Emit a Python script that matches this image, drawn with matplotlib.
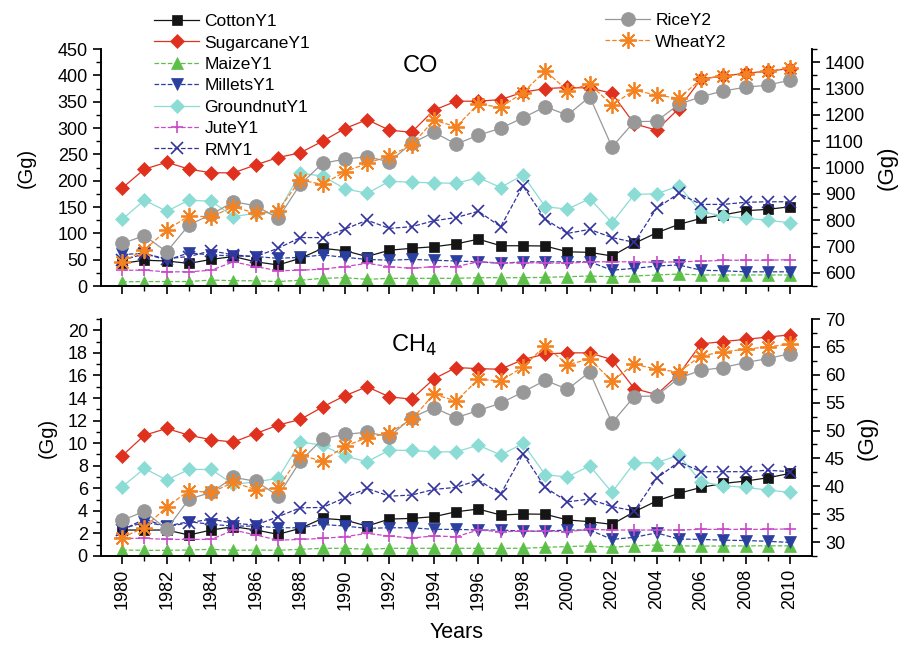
import numpy as np
import matplotlib
matplotlib.use("Agg")
import matplotlib.pyplot as plt
from matplotlib.ticker import MultipleLocator

plt.rcParams['font.family'] = ['Liberation Sans', 'DejaVu Sans']

years = list(range(1980, 2011))

# CO (Gg) - Y1 series
cotton_co = [43, 49, 47.5, 43, 50.6, 56, 46, 40, 52.6, 71.6, 67, 56, 68, 71.6, 74.6, 80,
             89, 76.5, 76.5, 76, 65, 64, 57, 81, 101, 117, 128.5, 135, 143, 145.6, 150.6]
sugarcane_co = [186, 222, 235, 222, 215, 215, 230, 244, 253, 275, 299, 316, 296, 292, 334, 351,
                351, 354, 368, 375, 377, 376, 366, 308, 296, 337, 393, 399, 404, 408, 413]
maize_co = [8, 8.5, 8.5, 8.5, 11.4, 10, 10, 8.5, 11, 14.6, 15.8, 12.7, 14.6, 14.6, 14.6, 14.6,
            15.8, 15.8, 15.8, 16.5, 17.7, 19, 17.7, 19, 21, 22.8, 21, 21, 21, 21, 21]
millets_co = [60, 62, 49, 63, 59, 57, 56, 52.6, 54.5, 59, 54.5, 50.6, 49, 50.6, 49, 47.5,
              46, 43, 46, 46, 46, 46, 30, 33.5, 38, 40, 30, 29, 27, 27, 27]
groundnut_co = [126.6, 163, 142, 163, 161, 132, 138, 140, 214, 209, 185, 176, 199, 197, 196, 195,
                206, 187, 211, 150.6, 146, 166, 120, 174, 175, 190, 141, 133, 128.5, 125, 120]
jute_co = [30, 30, 27, 27, 30, 46, 37, 29, 30, 32, 37, 43, 37, 33.5, 37, 37,
           46, 44, 44, 44, 43, 46, 46, 46, 45, 46, 47, 49, 49, 49, 50]
rmy_co = [49, 61, 52, 56, 67, 59, 56, 71.6, 92, 92, 108, 125, 109.5, 112.6, 124, 130,
          142, 112.6, 190, 127, 100, 107.6, 92, 83, 147.5, 176, 155, 155, 159, 160, 160]
# CO (Gg) - Y2 series
rice_co = [712, 741, 680, 782, 822, 870, 855, 807, 936, 1016, 1032, 1041, 1022, 1092, 1134, 1089,
           1123, 1149, 1189, 1231, 1199, 1269, 1078, 1174, 1176, 1240, 1269, 1291, 1305, 1313, 1332]
wheat_co = [642, 687, 763, 816, 813, 851, 826, 836, 953, 936, 984, 1016, 1044, 1085, 1180, 1155,
            1241, 1229, 1284, 1368, 1292, 1317, 1237, 1294, 1275, 1263, 1336, 1348, 1355, 1367, 1377]

# CH4 (Gg) - Y1 series
cotton_ch4 = [2.3, 2.3, 2.3, 1.86, 2.3, 2.6, 2.3, 1.92, 2.45, 3.33, 3.19, 2.65, 3.27, 3.33, 3.48, 3.92,
              4.16, 3.63, 3.72, 3.7, 3.19, 3.04, 2.8, 3.92, 4.87, 5.55, 6.08, 6.43, 6.64, 6.93, 7.32]
sugarcane_ch4 = [8.88, 10.7, 11.3, 10.7, 10.3, 10.1, 10.85, 11.6, 12.1, 13.2, 14.2, 15.0, 14.1, 13.9, 15.7, 16.7,
                 16.6, 16.55, 17.4, 17.9, 18.0, 18.0, 17.4, 14.84, 14.3, 16.1, 18.8, 19.0, 19.2, 19.4, 19.6]
maize_ch4 = [0.53, 0.5, 0.5, 0.53, 0.59, 0.5, 0.53, 0.5, 0.59, 0.68, 0.68, 0.59, 0.68, 0.68, 0.68, 0.68,
             0.68, 0.68, 0.68, 0.77, 0.83, 0.9, 0.77, 0.9, 0.97, 0.9, 0.88, 0.88, 0.9, 0.9, 0.9]
millets_ch4 = [2.4, 3.0, 2.65, 3.04, 2.8, 2.65, 2.65, 2.5, 2.5, 2.8, 2.65, 2.45, 2.5, 2.5, 2.36, 2.36,
               2.3, 2.3, 2.2, 2.2, 2.3, 2.3, 1.47, 1.65, 2.05, 1.5, 1.47, 1.4, 1.37, 1.3, 1.2]
groundnut_ch4 = [6.13, 7.76, 6.73, 7.67, 7.67, 6.34, 6.58, 6.87, 10.1, 9.82, 8.85, 8.35, 9.38, 9.35, 9.23, 9.23,
                 9.82, 8.94, 9.97, 7.2, 7.0, 7.99, 5.64, 8.26, 8.26, 8.94, 6.58, 6.22, 6.08, 5.84, 5.64]
jute_ch4 = [1.56, 1.56, 1.47, 1.47, 1.47, 2.3, 1.86, 1.4, 1.47, 1.56, 1.71, 2.0, 1.77, 1.6, 1.77, 1.71,
            2.3, 2.15, 2.2, 2.2, 2.15, 2.36, 2.3, 2.3, 2.3, 2.3, 2.36, 2.36, 2.36, 2.36, 2.4]
rmy_ch4 = [2.3, 3.27, 2.6, 2.95, 3.27, 2.9, 2.74, 3.48, 4.27, 4.3, 5.16, 5.99, 5.3, 5.4, 5.9, 6.08,
           6.73, 5.49, 9.03, 6.08, 4.8, 5.04, 4.37, 4.0, 6.87, 8.35, 7.47, 7.47, 7.47, 7.6, 7.47]
# CH4 (Gg) - Y2 series
rice_ch4 = [33.9, 35.5, 32.3, 37.7, 38.9, 41.6, 40.9, 38.3, 44.5, 48.5, 49.3, 49.7, 48.9, 52.3, 54.1, 52.3,
            53.6, 54.9, 56.9, 59.0, 57.4, 60.5, 51.4, 56.1, 56.2, 59.4, 60.8, 61.3, 62.2, 62.9, 63.8]
wheat_ch4 = [30.8, 32.6, 36.3, 39.2, 38.9, 40.7, 39.4, 39.7, 45.6, 44.5, 47.2, 48.7, 49.6, 52.0, 56.5, 55.3,
             59.2, 58.9, 61.4, 65.2, 61.8, 62.8, 58.9, 61.9, 61.0, 60.5, 63.4, 64.1, 64.6, 65.0, 65.5]

# name, marker, color, linestyle, marker size
y1_styles = [
    ('CottonY1', 's', '#151515', '-', 7),
    ('SugarcaneY1', 'D', '#e0301e', '-', 7),
    ('MaizeY1', '^', '#5cbf48', '--', 8),
    ('MilletsY1', 'v', '#2a3fa0', '--', 8),
    ('GroundnutY1', 'D', '#8adcd4', '-', 7),
    ('JuteY1', '+', '#c84ac8', '--', 8),
    ('RMY1', 'x', '#33339e', '--', 8),
]
y2_styles = [
    ('RiceY2', 'o', '#989898', '-', 10),
    ('WheatY2', (8, 2, 0), '#f58220', '--', 12),
]

fig = plt.figure(figsize=(9.1, 6.48), dpi=100)
ax1 = fig.add_axes([0.111, 0.5586, 0.781, 0.3657])
ax2 = fig.add_axes([0.111, 0.142, 0.781, 0.3657])
ax1r = ax1.twinx()
ax2r = ax2.twinx()


def draw(ax, axr, y1_data, y2_data):
    hs = []
    for (name, m, c, ls, ms), d in zip(y1_styles, y1_data):
        mew = 1.2 if m in ('+', 'x') else 0.5
        h, = ax.plot(years, d, marker=m, color=c, ls=ls, lw=0.9, ms=ms,
                     mec=c, mew=mew, label=name)
        hs.append(h)
    hs2 = []
    for (name, m, c, ls, ms), d in zip(y2_styles, y2_data):
        mew = 1.3 if name == 'WheatY2' else 0.5
        h, = axr.plot(years, d, marker=m, color=c, ls=ls, lw=0.9, ms=ms,
                      mec=c, mew=mew, label=name)
        hs2.append(h)
    return hs, hs2


h1, h2 = draw(ax1, ax1r,
              [cotton_co, sugarcane_co, maize_co, millets_co, groundnut_co, jute_co, rmy_co],
              [rice_co, wheat_co])
draw(ax2, ax2r,
     [cotton_ch4, sugarcane_ch4, maize_ch4, millets_ch4, groundnut_ch4, jute_ch4, rmy_ch4],
     [rice_ch4, wheat_ch4])

for ax in (ax1, ax2):
    ax.set_xlim(1979.05, 2010.97)
    ax.xaxis.set_major_locator(MultipleLocator(2))
    ax.xaxis.set_minor_locator(MultipleLocator(1))

ax1.set_ylim(0, 450)
ax1.yaxis.set_major_locator(MultipleLocator(50))
ax1.yaxis.set_minor_locator(MultipleLocator(25))
ax1r.set_ylim(550, 1450)
ax1r.yaxis.set_major_locator(MultipleLocator(100))
ax1r.yaxis.set_minor_locator(MultipleLocator(50))
ax1r.set_yticks(range(600, 1401, 100))

ax2.set_ylim(0, 21)
ax2.yaxis.set_major_locator(MultipleLocator(2))
ax2.yaxis.set_minor_locator(MultipleLocator(1))
ax2.set_yticks(range(0, 21, 2))
ax2r.set_ylim(27.5, 70)
ax2r.yaxis.set_major_locator(MultipleLocator(5))
ax2r.yaxis.set_minor_locator(MultipleLocator(2.5))
ax2r.set_yticks(range(30, 71, 5))

for ax in (ax1, ax2, ax1r, ax2r):
    ax.spines['top'].set_visible(False)
    for s in ax.spines.values():
        s.set_linewidth(1.2)
    ax.tick_params(which='major', direction='out', length=6, width=1.2, labelsize=13)
    ax.tick_params(which='minor', direction='out', length=3.5, width=1.0)

ax1.tick_params(axis='x', labelbottom=False)
ax2.tick_params(axis='x', labelrotation=90)

ax1.set_ylabel('(Gg)', fontsize=14.5, labelpad=16)
ax2.set_ylabel('(Gg)', fontsize=14.5, labelpad=8)
for ax in (ax1r, ax2r):
    ax.set_ylabel('(Gg)', fontsize=16, rotation=90, labelpad=8)
ax2.set_xlabel('Years', fontsize=15.5, labelpad=9)

ax1.text(0.45, 0.93, 'CO', transform=ax1.transAxes, fontsize=17, ha='center', va='center')
ax2.text(0.44, 0.89, 'CH$_4$', transform=ax2.transAxes, fontsize=17, ha='center', va='center')

leg_kw = dict(frameon=False, fontsize=12.5, handlelength=2.6, handletextpad=0.3,
              labelspacing=0.36, borderpad=0, borderaxespad=0)
fig.legend(handles=h1, loc='upper left', bbox_to_anchor=(154 / 910, 1 - 14 / 648), **leg_kw)
fig.legend(handles=h2, loc='upper left', bbox_to_anchor=(605 / 910, 1 - 13 / 648), **leg_kw)

fig.savefig('out.png', dpi=100)
